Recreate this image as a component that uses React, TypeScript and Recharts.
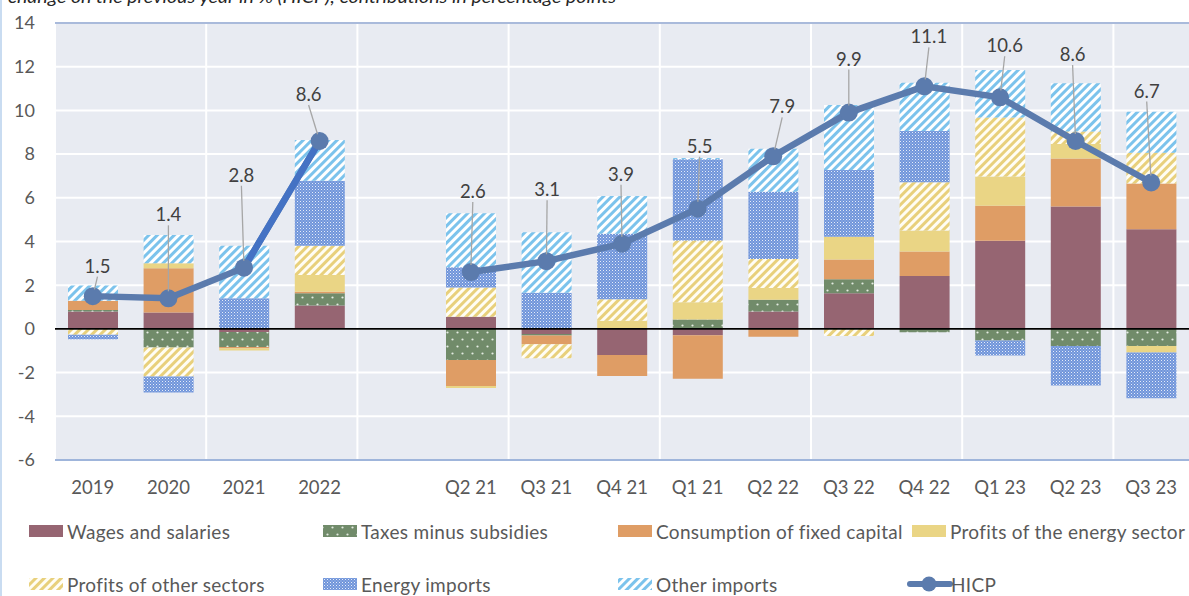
import React from 'react';
import {
  ComposedChart,
  Bar,
  Line,
  XAxis,
  YAxis,
  CartesianGrid,
  ReferenceLine,
  LabelList,
} from 'recharts';

// ---------------- DATA ----------------
const categories = ['2019', '2020', '2021', '2022', '', 'Q2 21', 'Q3 21', 'Q4 21', 'Q1 21', 'Q2 22', 'Q3 22', 'Q4 22', 'Q1 23', 'Q2 23', 'Q3 23'];
const wages = [0.8, 0.75, -0.14, 1.07, null, 0.56, -0.23, -1.19, -0.29, 0.8, 1.63, 2.42, 4.03, 5.6, 4.56];
const taxes = [0.07, -0.85, -0.69, 0.56, null, -1.42, -0.07, 0, 0.43, 0.53, 0.64, -0.15, -0.53, -0.78, -0.78];
const fixedCapital = [0.42, 2.03, -0.06, 0.07, null, -1.19, -0.4, -0.96, -1.99, -0.36, 0.91, 1.12, 1.61, 2.2, 2.1];
const energyProfits = [0, 0.22, -0.1, 0.77, null, -0.1, 0, 0.37, 0.79, 0.54, 1.04, 0.96, 1.34, 0.66, -0.3];
const otherProfits = [-0.27, -1.33, 0, 1.33, null, 1.34, -0.64, 0.99, 2.83, 1.33, -0.32, 2.21, 2.7, 0.58, 1.4];
const energyImports = [-0.2, -0.73, 1.4, 2.98, null, 0.92, 1.66, 2.99, 3.72, 3.08, 3.05, 2.35, -0.69, -1.81, -2.09];
const otherImports = [0.7, 1.3, 2.4, 1.87, null, 2.47, 2.76, 1.73, 0.05, 1.97, 2.98, 2.21, 2.17, 2.2, 1.88];
const hicp = [1.5, 1.4, 2.8, 8.6, null, 2.6, 3.1, 3.9, 5.5, 7.9, 9.9, 11.1, 10.6, 8.6, 6.7];
const highlightedSegment = ['2021', '2022'];
const yTicks = [-6, -4, -2, 0, 2, 4, 6, 8, 10, 12, 14];

const titleText = 'change on the previous year in % (HICP); contributions in percentage points';

const data = categories.map((cat, i) => ({
  cat,
  wages: wages[i],
  taxes: taxes[i],
  fixedCapital: fixedCapital[i],
  energyProfits: energyProfits[i],
  otherProfits: otherProfits[i],
  energyImports: energyImports[i],
  otherImports: otherImports[i],
  hicp: hicp[i],
  hicpHi: highlightedSegment.includes(cat) ? hicp[i] : null,
}));

// ---------------- STYLE ----------------
const FONT = 'Lato, "Open Sans", sans-serif';
const C_WAGES = '#966572';
const C_TAX = '#718B6A';
const C_CFC = '#DF9D65';
const C_EPROF = '#EAD585';
const C_OPROF = '#E8D07C';
const C_EIMP = '#7095DA';
const C_OIMP = '#7CC3EC';
const C_HICP = '#5B7BAD';
const C_HICP_HI = '#4472C4';

// label offsets (layout only) relative to each HICP point: [dx, dy]
const LABEL_OFFSETS: [number, number][] = [
  [4.7, -30.5], [0, -84], [-2.6, -93], [-11, -47], [0, 0],
  [2, -81], [0.7, -72], [-1, -70], [2, -63], [9, -50],
  [0, -54], [4.5, -50], [4.7, -52], [-3, -87], [-4.5, -92],
];

const Patterns = ({ p }: { p: string }) => (
  <defs>
    <pattern id={`${p}tax`} patternUnits="userSpaceOnUse" width={10} height={14}>
      <rect width={10} height={14} fill={C_TAX} />
      <circle cx={2.5} cy={3.5} r={1.1} fill="#E4EBE1" />
      <circle cx={7.5} cy={10.5} r={1.1} fill="#E4EBE1" />
    </pattern>
    <pattern id={`${p}oprof`} patternUnits="userSpaceOnUse" width={6} height={6} patternTransform="rotate(45)">
      <rect width={6} height={6} fill="#FFFDF4" />
      <rect width={3} height={6} fill={C_OPROF} />
    </pattern>
    <pattern id={`${p}oimp`} patternUnits="userSpaceOnUse" width={6} height={6} patternTransform="rotate(45)">
      <rect width={6} height={6} fill="#FFFFFF" />
      <rect width={3} height={6} fill={C_OIMP} />
    </pattern>
    <pattern id={`${p}eimp`} patternUnits="userSpaceOnUse" width={3} height={3}>
      <rect width={3} height={3} fill={C_EIMP} />
      <rect width={1} height={1} fill="#E6ECF9" />
      <rect x={1.5} y={1.5} width={1} height={1} fill="#B9CAEE" />
    </pattern>
  </defs>
);

const HicpLabel = (props: any) => {
  const { x, y, value, index } = props;
  if (value == null || x == null || y == null) return null;
  const [dx, dy] = LABEL_OFFSETS[index] || [0, -30];
  const lx = x + dx;
  const ly = y + dy;
  const sx = lx;
  const sy = ly + 11;
  const vx = x - sx;
  const vy = y - sy;
  const len = Math.hypot(vx, vy);
  const ex = x - (vx / len) * 7;
  const ey = y - (vy / len) * 7;
  return (
    <g>
      {len > 12 && <line x1={sx} y1={sy} x2={ex} y2={ey} stroke="#A6A6A6" strokeWidth={1.3} />}
      <text
        x={lx}
        y={ly}
        textAnchor="middle"
        dominantBaseline="central"
        fontSize={18.5}
        fill="#404040"
        fontFamily={FONT}
      >
        {Number(value).toFixed(1)}
      </text>
    </g>
  );
};

const legendItems = [
  { label: 'Wages and salaries', fill: C_WAGES, x: 29, row: 0 },
  { label: 'Taxes minus subsidies', fill: 'url(#lgtax)', x: 323, row: 0 },
  { label: 'Consumption of fixed capital', fill: C_CFC, x: 618, row: 0 },
  { label: 'Profits of the energy sector', fill: C_EPROF, x: 912, row: 0 },
  { label: 'Profits of other sectors', fill: 'url(#lgoprof)', x: 29, row: 1 },
  { label: 'Energy imports', fill: 'url(#lgeimp)', x: 323, row: 1 },
  { label: 'Other imports', fill: 'url(#lgoimp)', x: 618, row: 1 },
];

const Legend = () => (
  <svg width={1189} height={86} style={{ position: 'absolute', left: 0, top: 510 }}>
    <Patterns p="lg" />
    {legendItems.map((it) => {
      const cy = it.row === 0 ? 21 : 74;
      return (
        <g key={it.label}>
          <rect x={it.x} y={cy - 6} width={34} height={12} fill={it.fill} />
          <text
            x={it.x + 38}
            y={cy}
            dominantBaseline="central"
            fontSize={19}
            letterSpacing={0.3}
            fill="#595959"
            fontFamily={FONT}
          >
            {it.label}
          </text>
        </g>
      );
    })}
    <line x1={910} y1={74} x2={950} y2={74} stroke={C_HICP} strokeWidth={6} strokeLinecap="round" />
    <circle cx={929} cy={74} r={7.5} fill={C_HICP} />
    <text x={951} y={74} dominantBaseline="central" fontSize={19} letterSpacing={0.3} fill="#595959" fontFamily={FONT}>
      HICP
    </text>
  </svg>
);

export default function App() {
  return (
    <div style={{ position: 'absolute', left: 0, top: 0, width: 1189, height: 596, background: '#FFFFFF', overflow: 'hidden' }}>
      <div style={{ position: 'absolute', left: 0, top: 0, width: 2, height: 596, background: '#C9DCF1' }} />
      <svg width={1189} height={12} style={{ position: 'absolute', left: 0, top: 0 }}>
        <text x={8} y={3} fontSize={17} fontStyle="italic" fill="#262626" fontFamily={FONT} textLength={608} lengthAdjust="spacingAndGlyphs">
          {titleText}
        </text>
      </svg>
      <div style={{ position: 'absolute', left: 0, top: 0 }}>
        <ComposedChart
          width={1189}
          height={510}
          data={data}
          stackOffset="sign"
          margin={{ top: 23, right: 0, bottom: 10, left: 0 }}
        >
          <Patterns p="ch" />
          <CartesianGrid
            fill="#E8EBF2"
            stroke="#FFFFFF"
            strokeWidth={2}
            verticalCoordinatesGenerator={(args: any) => {
              const off = args && args.offset;
              if (!off) return [];
              const bw = off.width / categories.length;
              const pts: number[] = [];
              for (let i = 0; i <= categories.length; i += 2) pts.push(off.left + i * bw);
              return pts;
            }}
          />
          <XAxis
            dataKey="cat"
            interval={0}
            tickLine={false}
            tickSize={0}
            tickMargin={21}
            height={40}
            axisLine={{ stroke: '#7F9CCF', strokeWidth: 1.5 }}
            tick={{ fontSize: 18.5, fill: '#595959', fontFamily: FONT }}
          />
          <YAxis
            domain={[-6, 14]}
            ticks={yTicks}
            width={55}
            axisLine={false}
            tickLine={false}
            tickSize={0}
            tickMargin={20}
            tick={{ fontSize: 18, fill: '#595959', fontFamily: FONT }}
            allowDataOverflow
          />
          <ReferenceLine y={14} stroke="#8DA3CF" strokeWidth={1.5} />
          <Bar dataKey="wages" stackId="a" fill={C_WAGES} barSize={50} isAnimationActive={false} />
          <Bar dataKey="taxes" stackId="a" fill="url(#chtax)" barSize={50} isAnimationActive={false} />
          <Bar dataKey="fixedCapital" stackId="a" fill={C_CFC} barSize={50} isAnimationActive={false} />
          <Bar dataKey="energyProfits" stackId="a" fill={C_EPROF} barSize={50} isAnimationActive={false} />
          <Bar dataKey="otherProfits" stackId="a" fill="url(#choprof)" barSize={50} isAnimationActive={false} />
          <Bar dataKey="energyImports" stackId="a" fill="url(#cheimp)" barSize={50} isAnimationActive={false} />
          <Bar dataKey="otherImports" stackId="a" fill="url(#choimp)" barSize={50} isAnimationActive={false} />
          <ReferenceLine y={0} stroke="#000000" strokeWidth={1.6} />
          <Line dataKey="hicp" stroke={C_HICP} strokeWidth={6.5} dot={false} activeDot={false} connectNulls={false} isAnimationActive={false} />
          <Line dataKey="hicpHi" stroke={C_HICP_HI} strokeWidth={6.5} dot={false} activeDot={false} connectNulls={false} isAnimationActive={false} />
          <Line
            dataKey="hicp"
            stroke="none"
            strokeWidth={0}
            dot={{ r: 9, fill: C_HICP, stroke: C_HICP, strokeWidth: 0 }}
            activeDot={false}
            isAnimationActive={false}
          >
            <LabelList dataKey="hicp" content={HicpLabel} />
          </Line>
        </ComposedChart>
      </div>
      <Legend />
    </div>
  );
}
